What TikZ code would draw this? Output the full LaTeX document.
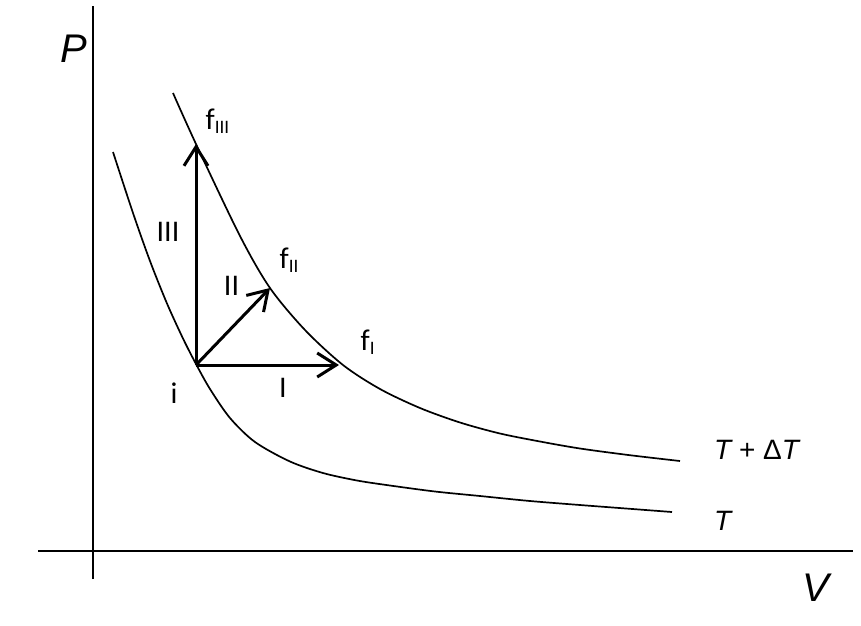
\documentclass[tikz,border=0pt]{standalone}
\usepackage{fontspec}
\setmainfont{Carlito}
\newfontfamily\arialfont{Liberation Sans}
\usetikzlibrary{arrows.meta}
\tikzset{
  axis/.style={line width=2.2pt},
  curve/.style={line width=1.7pt, smooth, tension=0.5},
  vec/.style={line width=3pt, -{Straight Barb[length=19pt,width=24pt]}},
  lbl/.style={inner sep=0pt, font=\fontsize{30}{30}\selectfont},
  axlbl/.style={inner sep=0pt, font=\arialfont\itshape\fontsize{40}{40}\selectfont},
  tlbl/.style={inner sep=0pt, anchor=base west, font=\arialfont\fontsize{28}{28}\selectfont},
}
\newcommand{\subsc}[1]{\raisebox{-4pt}{\fontsize{19}{19}\selectfont #1}}
\begin{document}
\begin{tikzpicture}[x=1pt,y=-1pt]
\useasboundingbox (0,0) rectangle (861,625);
% axes
\coordinate (ytop) at (93.3,6);
\coordinate (ybot) at (93.3,579);
\coordinate (xl) at (38,551);
\coordinate (xr) at (853,551);
\draw[axis] (ybot) -- (ytop);
\draw[axis] (xl) -- (xr);
% isotherms
\draw[curve] plot coordinates {(113,152) (133,213) (150,261) (167,303.5) (183,338.5) (196,364) (210,389) (230,418) (255,442) (290,461.5) (323,473) (357,480.5) (390,485.5) (435,491.5) (480,496) (530,501) (580,505) (626,508.5) (672,512)};
\draw[curve] plot coordinates {(173,93) (196,144) (240,236) (270,288) (305,330) (343,365) (380,389) (420,408) (460,422.5) (500,433.5) (540,441.5) (580,448.5) (630,455.2) (680,461)};
% states
\coordinate (i) at (196,365);
\coordinate (fIII) at (196,144);
\coordinate (fII) at (270,288);
\coordinate (fI) at (339,365);
\draw[vec] (i) -- (fIII);
\draw[vec] (i) -- (fII);
\draw[vec] (i) -- (fI);
% labels
\node[axlbl] (P) at (73.5,49) {P};
\node[axlbl] (V) at (816,588) {V};
\node[tlbl] (TdT) at (714,459) {{\itshape T} + Δ{\itshape T}};
\node[tlbl] (T) at (714,530) {\itshape T};
\node[lbl, anchor=base] (il) at (174,403) {i};
\node[lbl, anchor=base] (Il) at (283,397) {I};
\node[lbl, anchor=base] (IIl) at (231.5,295) {II};
\node[lbl, anchor=base] (IIIl) at (168,241) {III};
\node[lbl, anchor=base west] (fIIIl) at (205.5,129) {f\subsc{III}};
\node[lbl, anchor=base west] (fIIl) at (279.5,268) {f\subsc{II}};
\node[lbl, anchor=base west] (fIl) at (360.5,350) {f\subsc{I}};
\end{tikzpicture}
\end{document}
